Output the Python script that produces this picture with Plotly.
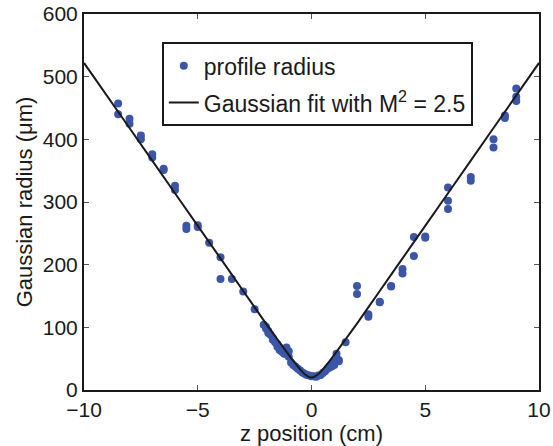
import plotly.graph_objects as go

# measured profile radius (um) vs z position (cm)
z_data = [
    -8.5, -8.5, -8.0, -8.0, -7.5, -7.5, -7.0, -7.0, -6.5, -6.5, -6.0, -6.0,
    -5.5, -5.5, -5.0, -5.0, -4.5, -4.0, -4.0, -3.5, -3.0, -2.5,
    -2.1, -2.0, -2.0, -1.9, -1.9, -1.8, -1.7, -1.7, -1.6, -1.5, -1.5, -1.4, -1.4,
    -1.3, -1.2, -1.1, -1.1, -1.0, -1.0, -0.9, -0.8, -0.7, -0.6, -0.5, -0.4, -0.3,
    -0.2, -0.1, 0.0, 0.1, 0.2, 0.3, 0.4, 0.5, 0.6, 0.7, 0.8, 0.8, 0.9, 0.9,
    1.0, 1.0, 1.1, 1.1, 1.2, 1.2, 1.5,
    2.0, 2.0, 2.5, 2.5, 3.0, 3.0, 3.5, 3.5, 4.0, 4.0, 4.5, 4.5, 5.0, 5.0,
    6.0, 6.0, 6.0, 7.0, 7.0, 8.0, 8.0, 8.5, 8.5, 9.0, 9.0, 9.0,
]
w_data = [
    457, 440, 433, 425, 406, 400, 376, 371, 353, 351, 326, 319,
    262, 257, 263, 260, 235, 212, 177, 177, 157, 129,
    104, 101, 98, 94, 91, 88, 83, 80, 76, 73, 69, 68, 64,
    61, 58, 68, 58, 62, 53, 44, 40, 37, 34, 31, 28, 26,
    24, 23, 22, 22, 21, 23, 24, 27, 30, 34, 38, 36, 42, 38,
    45, 40, 58, 47, 48, 46, 76,
    166, 153, 121, 117, 141, 140, 166, 165, 193, 186, 244, 214, 245, 243,
    323, 302, 289, 340, 334, 400, 387, 438, 434, 481, 468, 461,
]

# Gaussian fit curve (um)
z_fit = [-10, -8, -6, -4, -3, -2, -1.5, -1, -0.75, -0.5, -0.3, -0.15, 0,
         0.15, 0.3, 0.5, 0.75, 1, 1.5, 2, 3, 4, 6, 8, 10]
w_fit = [522, 418, 314, 210, 158, 106, 81, 56, 44, 33, 25.4, 21.5, 20,
         21.5, 25.4, 33, 44, 56, 81, 106, 158, 210, 314, 418, 522]

x_ticks = [-10, -5, 0, 5, 10]
x_labels = ["\u221210", "\u22125", "0", "5", "10"]
y_ticks = [0, 100, 200, 300, 400, 500, 600]

FONT = "Liberation Sans, Arial, Helvetica, sans-serif"

fig = go.Figure()
fig.add_trace(go.Scatter(
    x=z_data, y=w_data, mode="markers", name="profile radius",
    marker=dict(color="#3a56aa", size=8, line=dict(width=0)),
    legendgroup="a",
))
fig.add_trace(go.Scatter(
    x=z_fit, y=w_fit, mode="lines", name="Gaussian fit with M<sup>2</sup> = 2.5",
    line=dict(color="#1a1a1a", width=2, shape="spline", smoothing=0.6),
    legendgroup="b",
))

axis_common = dict(
    showgrid=False, zeroline=False, showline=True, linecolor="#1a1a1a",
    linewidth=2, mirror="ticks", ticks="inside", ticklen=5, tickwidth=1,
    tickcolor="#555555", automargin=False,
    tickfont=dict(family=FONT, size=21, color="#1a1a1a"),
)

fig.update_layout(
    width=553, height=446,
    margin=dict(l=84, r=14, t=14, b=56),
    paper_bgcolor="white", plot_bgcolor="white",
    font=dict(family=FONT, size=22, color="#1a1a1a"),
    xaxis=dict(range=[-10, 10], tickvals=x_ticks, ticktext=x_labels,
               title=dict(text="z position (cm)", standoff=2,
                          font=dict(family=FONT, size=22)),
               **axis_common),
    yaxis=dict(range=[0, 600], tickvals=y_ticks,
               title=dict(text="Gaussian radius (\u03bcm)", standoff=4,
                          font=dict(family=FONT, size=22)),
               **axis_common),
    showlegend=True,
    legend=dict(x=0.171, y=0.925, xanchor="left", yanchor="top",
                bgcolor="white", bordercolor="#1a1a1a", borderwidth=2,
                font=dict(family=FONT, size=23, color="#1a1a1a"),
                traceorder="grouped", tracegroupgap=4),
)

fig.write_html("out.html")
